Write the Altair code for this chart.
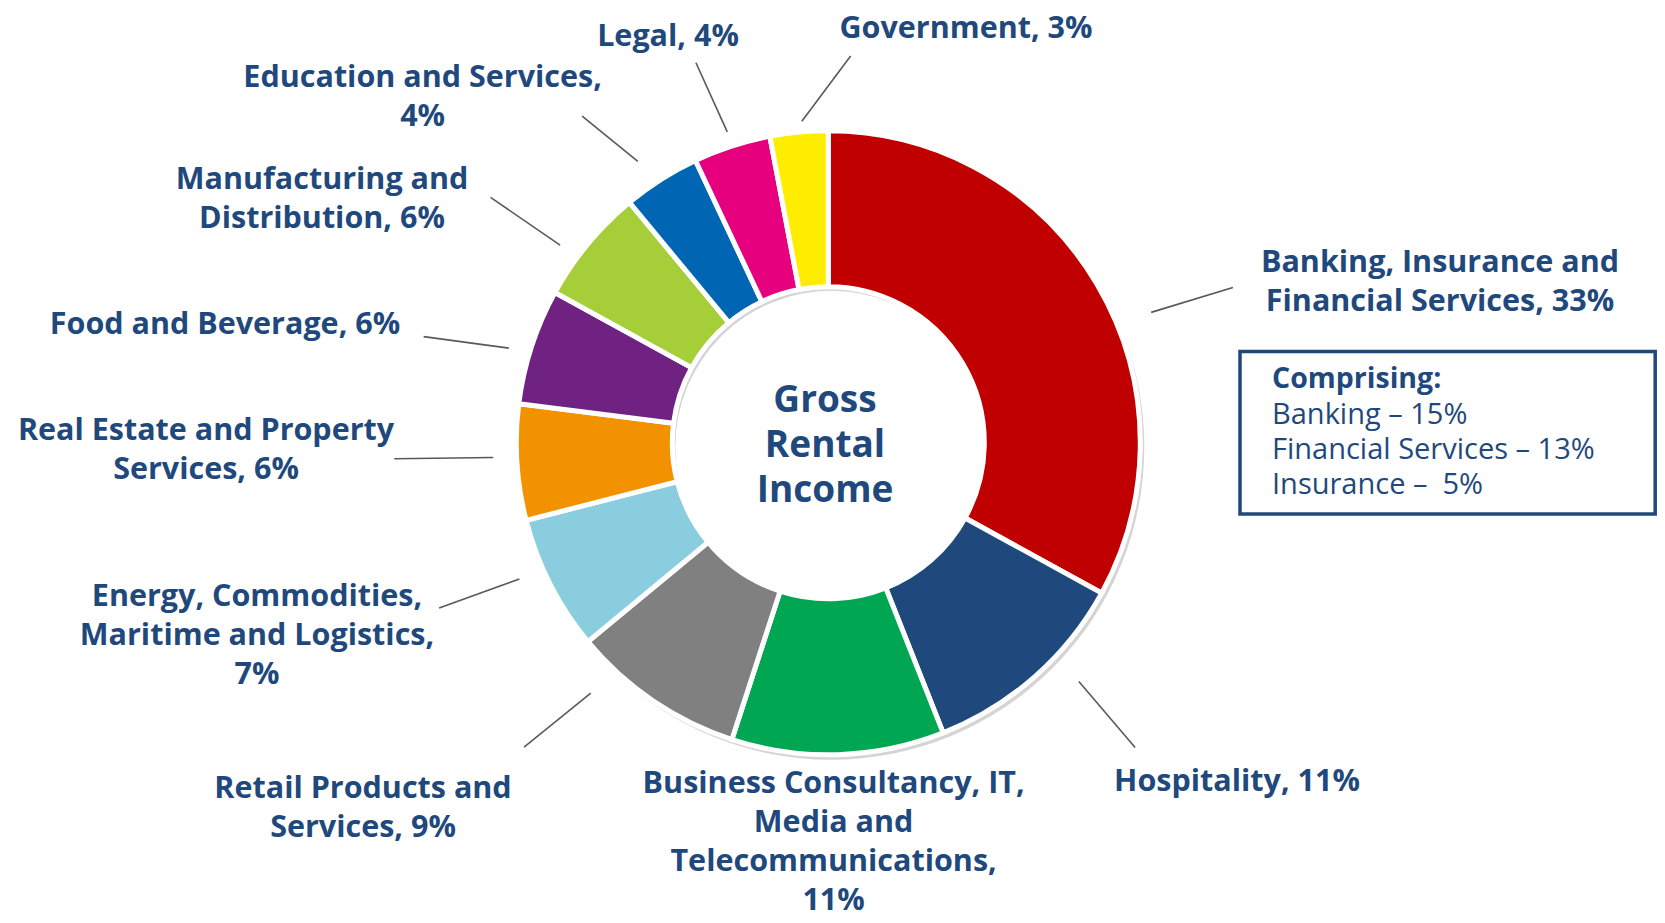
import math
import altair as alt
import pandas as pd

# ---------------- data ----------------
categories = [
    "Banking, Insurance and Financial Services",
    "Hospitality",
    "Business Consultancy, IT, Media and Telecommunications",
    "Retail Products and Services",
    "Energy, Commodities, Maritime and Logistics",
    "Real Estate and Property Services",
    "Food and Beverage",
    "Manufacturing and Distribution",
    "Education and Services",
    "Legal",
    "Government",
]
values = [33, 11, 11, 9, 7, 6, 6, 6, 4, 4, 3]
colors = ["#C00000", "#1F497D", "#00A651", "#808080", "#89CDDE", "#F39200",
          "#6F2282", "#A6CE39", "#0066B3", "#E6007E", "#FFED00"]

center_lines = ["Gross", "Rental", "Income"]
box_title = "Comprising:"
box_items = ["Banking \u2013 15%", "Financial Services \u2013 13%", "Insurance \u2013\u00a0\u00a05%"]

# words per label line
breaks = [[3, 3], [2], [3, 2, 1, 1], [3, 2], [2, 3, 1], [4, 2], [4], [2, 2], [3, 1], [2], [2]]

# ---------------- layout ----------------
W, H = 1649, 907
CX, CY = 820.3, 434.8
R_IN, R_OUT = 156, 312
TXT = "#1F497D"
FONT = "Open Sans"
LABEL_SIZE = 30.5
LH = 39.0

label_anchor = [(1432, 255), (1229, 773.5), (825.6, 776.0), (355, 781), (249, 589),
                (198, 423), (217, 317), (314, 171.5), (414.6, 69.5), (660, 28.5), (958, 20.5)]
# (start angle offset, start radius factor, end angle offset, end radius factor)
leaders = [(8.6, 1.116, 9.6, 1.389), (-5, 1.109, -3.8, 1.386), None, (9.3, 1.106, 10.8, 1.379),
           (3.2, 1.082, 4.0, 1.355), (1.1, 1.075, 1.5, 1.392), (-1.5, 1.068, -3.3, 1.341),
           (-3.2, 1.068, -3.6, 1.338), (-1.7, 1.089, -4.6, 1.311), (0, 1.048, -1.2, 1.29),
           (0.7, 1.034, 8.7, 1.242)]

# ---------------- tables ----------------
slices = pd.DataFrame({"category": categories, "value": values, "idx": range(len(values))})

cum = 0
line_rows, text_rows = [], []
for i, (cat, v) in enumerate(zip(categories, values)):
    mid = (cum + v / 2) / sum(values) * 360
    cum += v
    lead = leaders[i]
    if lead is not None:
        a1, f1, a2, f2 = lead
        t1, t2 = math.radians(mid + a1), math.radians(mid + a2)
        line_rows.append({
            "x": CX + f1 * R_OUT * math.sin(t1), "y": CY - f1 * R_OUT * math.cos(t1),
            "x2": CX + f2 * R_OUT * math.sin(t2), "y2": CY - f2 * R_OUT * math.cos(t2),
        })
    words = f"{cat}, {v}%".split(" ")
    k = 0
    ax, ay = label_anchor[i]
    for j, n in enumerate(breaks[i]):
        text_rows.append({"x": ax, "y": ay + j * LH, "t": " ".join(words[k:k + n])})
        k += n

lines_df = pd.DataFrame(line_rows)
text_df = pd.DataFrame(text_rows)
center_df = pd.DataFrame({"x": [817] * 3, "y": [393.4, 438.0, 482.6], "t": center_lines})
box_title_df = pd.DataFrame({"x": [1264], "y": [371], "t": [box_title]})
box_items_df = pd.DataFrame({"x": [1264] * 3, "y": [407, 442, 477], "t": box_items})
box_df = pd.DataFrame({"x": [1232], "x2": [1647.2], "y": [343.5], "y2": [506]})

xs = alt.Scale(domain=[0, W], nice=False, zero=False)
ys = alt.Scale(domain=[0, H], nice=False, zero=False, reverse=True)


def txt(df, **kw):
    return alt.Chart(df).mark_text(font=FONT, color=TXT, baseline="middle", **kw).encode(
        x=alt.X("x:Q", scale=xs, axis=None), y=alt.Y("y:Q", scale=ys, axis=None), text="t:N")


shadow = alt.Chart(pd.DataFrame({"a": [1]})).mark_arc(
    innerRadius=R_IN, outerRadius=R_OUT + 1, color="#d4d4d4"
).encode(theta=alt.value(0), theta2=alt.value(6.2832),
         x=alt.value(CX + 3), y=alt.value(CY + 4))

donut = alt.Chart(slices).mark_arc(
    innerRadius=R_IN, outerRadius=R_OUT, stroke="white", strokeWidth=5
).encode(
    theta=alt.Theta("value:Q", stack=True),
    color=alt.Color("category:N", scale=alt.Scale(domain=categories, range=colors), legend=None),
    order=alt.Order("idx:Q"),
    x=alt.value(CX), y=alt.value(CY),
)

leader = alt.Chart(lines_df).mark_rule(color="#595959", strokeWidth=1.6).encode(
    x=alt.X("x:Q", scale=xs, axis=None), y=alt.Y("y:Q", scale=ys, axis=None),
    x2="x2:Q", y2="y2:Q",
)

labels = txt(text_df, fontSize=LABEL_SIZE, fontWeight="bold", align="center")
center = txt(center_df, fontSize=37, fontWeight="bold", align="center")

box = alt.Chart(box_df).mark_rect(fill="white", stroke=TXT, strokeWidth=3.5).encode(
    x=alt.X("x:Q", scale=xs, axis=None), x2="x2:Q",
    y=alt.Y("y:Q", scale=ys, axis=None), y2="y2:Q",
)
box_t1 = txt(box_title_df, fontSize=28.5, fontWeight="bold", align="left")
box_t2 = txt(box_items_df, fontSize=29, align="left")

chart = alt.layer(shadow, donut, leader, labels, center, box, box_t1, box_t2).properties(
    width=W, height=H, autosize="none", padding=0
).configure_view(stroke=None)

chart.save("out.html", embed_options={"renderer": "svg", "actions": False})
